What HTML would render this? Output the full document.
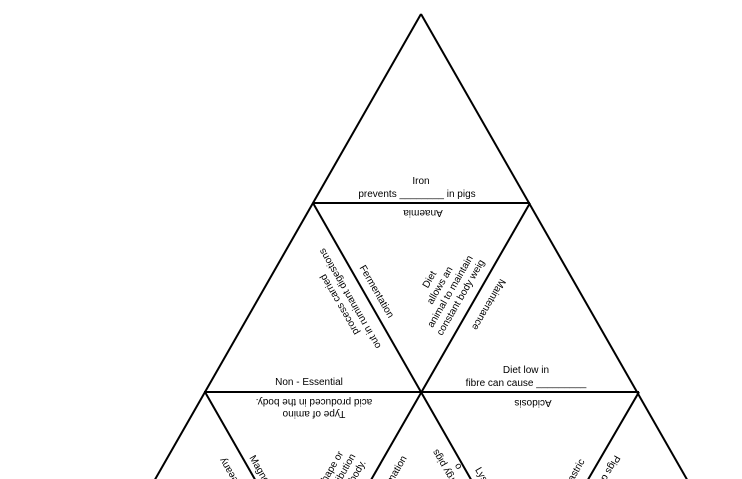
<!DOCTYPE html>
<html><head><meta charset="utf-8"><style>
html,body{margin:0;padding:0;background:#fff;width:742px;height:479px;overflow:hidden;}
svg{display:block;overflow:hidden;}
text{font-family:"Liberation Sans",sans-serif;font-size:10px;fill:#000;text-anchor:middle;}
</style></head><body>
<svg width="742" height="479" viewBox="0 0 742 479" xmlns="http://www.w3.org/2000/svg">
<defs><clipPath id="c"><rect x="0" y="0" width="742" height="479"/></clipPath></defs>
<g clip-path="url(#c)">
<g stroke="#000" stroke-width="2" fill="none">
<line x1="421" y1="14" x2="97" y2="581"/>
<line x1="421" y1="14" x2="745" y2="581"/>
<line x1="313" y1="203" x2="530" y2="203"/>
<line x1="204" y1="392" x2="639" y2="392"/>
<line x1="313" y1="203" x2="529" y2="581"/>
<line x1="530" y1="203" x2="313" y2="581"/>
<line x1="205" y1="392" x2="313" y2="581"/>
<line x1="639" y1="392" x2="529" y2="581"/>
</g>
<text x="421" y="184">Iron</text>
<text x="417" y="197">prevents ________ in pigs</text>
<text transform="translate(423,210) rotate(180)">Anaemia</text>
<text x="309" y="385">Non - Essential</text>
<text x="526" y="373">Diet low in</text>
<text x="526" y="386">fibre can cause _________</text>
<text transform="translate(533,400) rotate(180)">Acidosis</text>
<g transform="translate(314,408) rotate(180)"><text x="0" y="-3">Type of amino</text><text x="0" y="9">acid produced in the body.</text></g>
<text transform="translate(374,293) rotate(60)">Fermentation</text>
<g transform="translate(344,302) rotate(240)"><text x="0" y="-2">process carried</text><text x="0" y="10">out in ruminant digestions</text></g>
<g transform="translate(446,289) rotate(-60)"><text x="0" y="-16">Diet</text><text x="0" y="-4">allows an</text><text x="0" y="8">animal to maintain</text><text x="0" y="20">constant body weig</text></g>
<text transform="translate(486,303) rotate(120)">Maintenance</text>
<text transform="translate(232,470) rotate(240)">teeany</text>
<text transform="translate(262,480) rotate(60)">Magnesium</text>
<g transform="translate(342,476) rotate(-60)"><text x="0" y="-10">Shape or</text><text x="0" y="2">distribution</text><text x="0" y="14">of its body.</text></g>
<text transform="translate(392,484) rotate(-60)">Conformation</text>
<g transform="translate(452,470) rotate(240)"><text x="0" y="-2">energy pigs</text><text x="0" y="10">o</text></g>
<text transform="translate(482,482) rotate(60)">Lysine</text>
<text transform="translate(577,475) rotate(-60)">Gastric</text>
<text transform="translate(606,470) rotate(120)">Pigs dig</text>
</g>
</svg>
</body></html>
